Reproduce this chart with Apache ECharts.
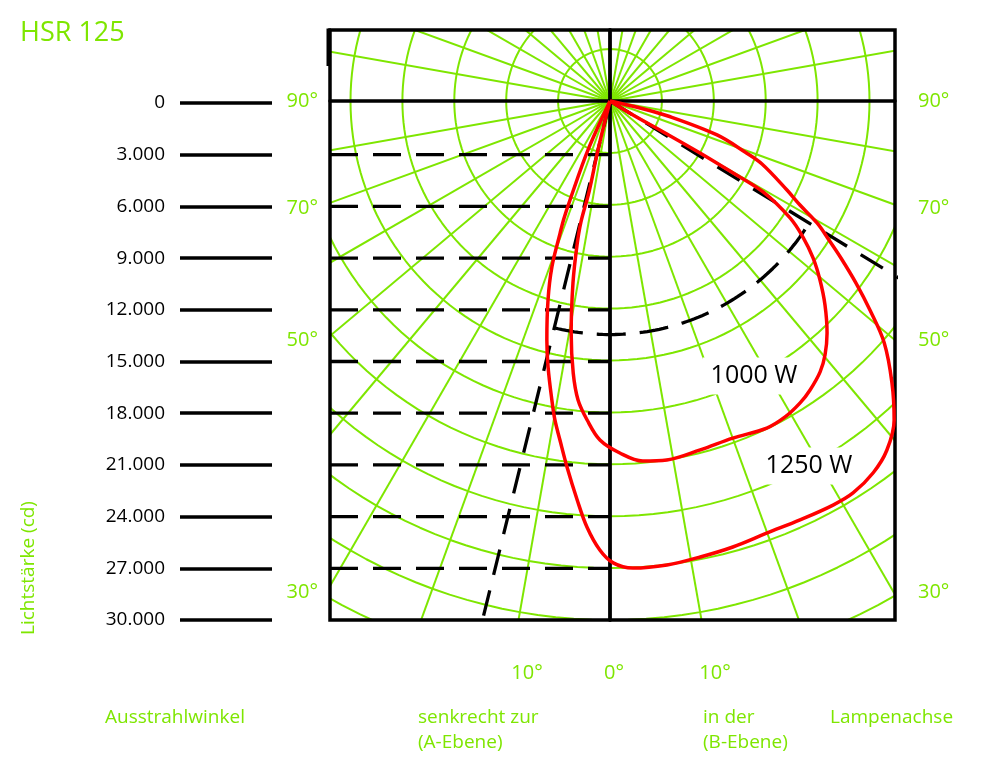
<!DOCTYPE html>
<html><head><meta charset="utf-8">
<script src="https://cdn.jsdelivr.net/npm/echarts@6/dist/echarts.min.js"></script>
<style>html,body{margin:0;padding:0;background:#fff}#c{width:981px;height:767px}</style>
</head><body><div id="c"></div>
<script>
// ---- data ----
const scaleTicks = [0, 3000, 6000, 9000, 12000, 15000, 18000, 21000, 24000, 27000, 30000];
const dashedLevels = [3000, 6000, 9000, 12000, 15000, 18000, 21000, 24000, 27000];
const circleRadii = [3000, 6000, 9000, 12000, 15000, 18000, 21000, 24000, 27000, 30000, 33000, 36000];
const rayAngles = [0,10,20,30,40,50,60,70,80,90,100,110,120,130,140,150,160,170,180,190,200,210,220,230,240,250,260,270,280,290,300,310,320,330,340,350];

// angle from the downward vertical (negative: A-Ebene, left; positive: B-Ebene, right), intensity in cd
const angles1250 = [-24.2, -24.2, -22.0, -21.4, -20.7, -19.3, -17.3, -14.8, -13.1, -11.0, -9.8, -8.4, -6.7, -4.7, -3.1, -1.3, 0.4, 2.8, 7.0, 11.2, 15.4, 20.0, 24.4, 28.9, 31.8, 35.3, 38.4, 41.7, 45.0, 48.6, 51.2, 53.5, 55.8, 57.6, 59.5, 61.3, 63.3, 67.5, 69.3, 72.4, 75.5, 76.9, 80];
const cd1250 = [0, 3100, 6170, 7320, 8160, 10160, 12050, 14290, 15790, 17610, 18710, 19810, 21300, 23140, 24660, 25960, 26700, 27030, 27020, 26870, 26740, 26570, 26590, 26680, 26660, 26330, 25760, 24690, 23050, 21130, 19280, 17690, 16140, 14990, 13890, 12520, 11450, 9510, 8340, 6490, 3460, 1780, 0];

const angles1000 = [-13.8, -13.8, -13.0, -13.5, -12.9, -11.5, -9.5, -7.7, -6.1, -4.1, -1.7, 1.6, 5.2, 9.0, 14.5, 20.0, 25.6, 29.0, 32.2, 34.7, 37.8, 40.25, 43.1, 46.5, 49.55, 52.3, 54.8, 57.0, 59.3, 59.7, 60.0, 59.9, 58.7, 58];
const cd1000 = [0, 2915, 5400, 7190, 8540, 10735, 13600, 15867, 17382, 18487, 19603, 20355, 20897, 21011, 20833, 20736, 20966, 20880, 20623, 20316, 19817, 19236, 18363, 17132, 15950, 14834, 13648, 12410, 10290, 8030, 6008, 3806, 1556, 0];

const beamLimits = [-13.8, 58.5];   // half-peak beam limits (deg)
const halfPeak = 13500;             // cd

// ---- helpers ----
const GREEN = '#7ee600';
const FONT = 'Open Sans';
const rad = d => d * Math.PI / 180;
const toXY = (a, I) => [I * Math.sin(rad(a)), I * Math.cos(rad(a))];
const fmt = v => String(v).replace(/\B(?=(\d{3})+(?!\d))/g, '.');

const XMIN = -16185, XMAX = 16474, YMIN = -4104, YMAX = 30000;

const series = [];
circleRadii.forEach(r => {
  const pts = [];
  for (let a = 0; a <= 360; a += 2) pts.push(toXY(a, r));
  series.push({type:'line', xAxisIndex:0, yAxisIndex:0, data:pts, symbol:'none', silent:true, z:1,
    lineStyle:{color:GREEN, width:2}, animation:false});
});
rayAngles.forEach(a => {
  series.push({type:'line', xAxisIndex:0, yAxisIndex:0, data:[[0,0], toXY(a, 40000)], symbol:'none', silent:true, z:1,
    lineStyle:{color:GREEN, width:2}, animation:false});
});
// horizontal dashed reference lines (drawn on the intensity scale of the left ruler)
dashedLevels.forEach(v => {
  series.push({type:'line', xAxisIndex:2, yAxisIndex:2, data:[[0, v], [1, v]], symbol:'none', silent:true, z:2,
    lineStyle:{color:'#000', width:3.3, type:[28,15]}, animation:false});
});
beamLimits.forEach(a => {
  series.push({type:'line', xAxisIndex:0, yAxisIndex:0, data:[[0,0], toXY(a, 40000)], symbol:'none', silent:true, z:2,
    lineStyle:{color:'#000', width:3.3, type:[26,16]}, animation:false});
});
(function(){
  const pts = [];
  for (let a = beamLimits[0]; a <= beamLimits[1] + 0.001; a += 1) pts.push(toXY(a, halfPeak));
  pts.push(toXY(beamLimits[1], halfPeak));
  series.push({type:'line', xAxisIndex:0, yAxisIndex:0, data:pts, symbol:'none', silent:true, z:2,
    lineStyle:{color:'#000', width:3.3, type:[29,14]}, animation:false});
})();
series.push({type:'line', name:'1250 W', xAxisIndex:0, yAxisIndex:0, data:angles1250.map((a,i)=>toXY(a, cd1250[i])),
  symbol:'none', smooth:0.35, z:5, lineStyle:{color:'#ff0000', width:3.5}, animation:false});
series.push({type:'line', name:'1000 W', xAxisIndex:0, yAxisIndex:0, data:angles1000.map((a,i)=>toXY(a, cd1000[i])),
  symbol:'none', smooth:0.35, z:5, lineStyle:{color:'#ff0000', width:3.5}, animation:false});
// scale grid dummy series
series.push({type:'line', xAxisIndex:1, yAxisIndex:1, data:[], symbol:'none'});

const txt = (x, y, text, o) => Object.assign({type:'text', x, y, z:10,
  style:Object.assign({text, fill:GREEN, font:'20px "Open Sans"', align:'left', verticalAlign:'middle'}, o||{})});

const option = {
  backgroundColor:'#fff',
  animation:false,
  grid:[
    {left:330, top:30, right:86, bottom:147, show:true, borderColor:'#000', borderWidth:3.5, z:4},
    {left:180, top:103, right:709, bottom:147, show:false},
    {left:330, top:103, right:371, bottom:147, show:false}
  ],
  xAxis:[
    {type:'value', gridIndex:0, min:XMIN, max:XMAX, z:4,
      axisLine:{show:true, onZero:true, lineStyle:{color:'#000', width:3.5}},
      axisTick:{show:false}, axisLabel:{show:false}, splitLine:{show:false}},
    {type:'value', gridIndex:1, min:0, max:1, show:false},
    {type:'value', gridIndex:2, min:0, max:1, show:false}
  ],
  yAxis:[
    {type:'value', gridIndex:0, min:YMIN, max:YMAX, inverse:true, z:4,
      axisLine:{show:true, onZero:true, lineStyle:{color:'#000', width:3.8}},
      axisTick:{show:false}, axisLabel:{show:false}, splitLine:{show:false}},
    {type:'value', gridIndex:1, min:0, max:30000, interval:3000, inverse:true,
      axisLine:{show:false}, axisTick:{show:false},
      axisLabel:{show:true, margin:15, color:'#000', fontSize:19, fontFamily:FONT, padding:[0,0,9,0],
        formatter:v => fmt(v)},
      splitLine:{show:true, lineStyle:{color:'#000', width:3.7}}},
    {type:'value', gridIndex:2, min:0, max:30000, inverse:true, show:false}
  ],
  series,
  graphic:[
    {type:'rect', z:10, shape:{x:326.5, y:28.5, width:4.5, height:37.5}, style:{fill:'#000'}},
    txt(20, 33, 'HSR 125', {font:'27px "Open Sans"'}),
    txt(318, 101, '90°', {align:'right'}),
    txt(318, 208, '70°', {align:'right'}),
    txt(318, 340, '50°', {align:'right'}),
    txt(318, 592, '30°', {align:'right'}),
    txt(918, 101, '90°'),
    txt(918, 208, '70°'),
    txt(918, 340, '50°'),
    txt(918, 592, '30°'),
    txt(527, 673, '10°', {align:'center'}),
    txt(614, 673, '0°', {align:'center'}),
    txt(715, 673, '10°', {align:'center'}),
    txt(105, 718, 'Ausstrahlwinkel', {font:'19px "Open Sans"'}),
    txt(418, 718, 'senkrecht zur', {font:'19px "Open Sans"'}),
    txt(418, 743, '(A-Ebene)', {font:'19px "Open Sans"'}),
    txt(703, 718, 'in der', {font:'19px "Open Sans"'}),
    txt(703, 743, '(B-Ebene)', {font:'19px "Open Sans"'}),
    txt(830, 718, 'Lampenachse', {font:'19px "Open Sans"'}),
    {type:'text', x:29, y:568, rotation:Math.PI/2, z:10,
      style:{text:'Lichtstärke (cd)', fill:GREEN, font:'19px "Open Sans"', align:'center', verticalAlign:'middle'}},
    {type:'text', x:754, y:376, z:3,
      style:{text:'1000 W', fill:'#000', font:'25px "Open Sans"', align:'center', verticalAlign:'middle',
        backgroundColor:'#fff', padding:[6,8]}},
    {type:'text', x:809, y:466, z:3,
      style:{text:'1250 W', fill:'#000', font:'25px "Open Sans"', align:'center', verticalAlign:'middle',
        backgroundColor:'#fff', padding:[6,8]}}
  ]
};
const chart = echarts.init(document.getElementById('c'), null, {renderer:'canvas'});
chart.setOption(option);
</script></body></html>
